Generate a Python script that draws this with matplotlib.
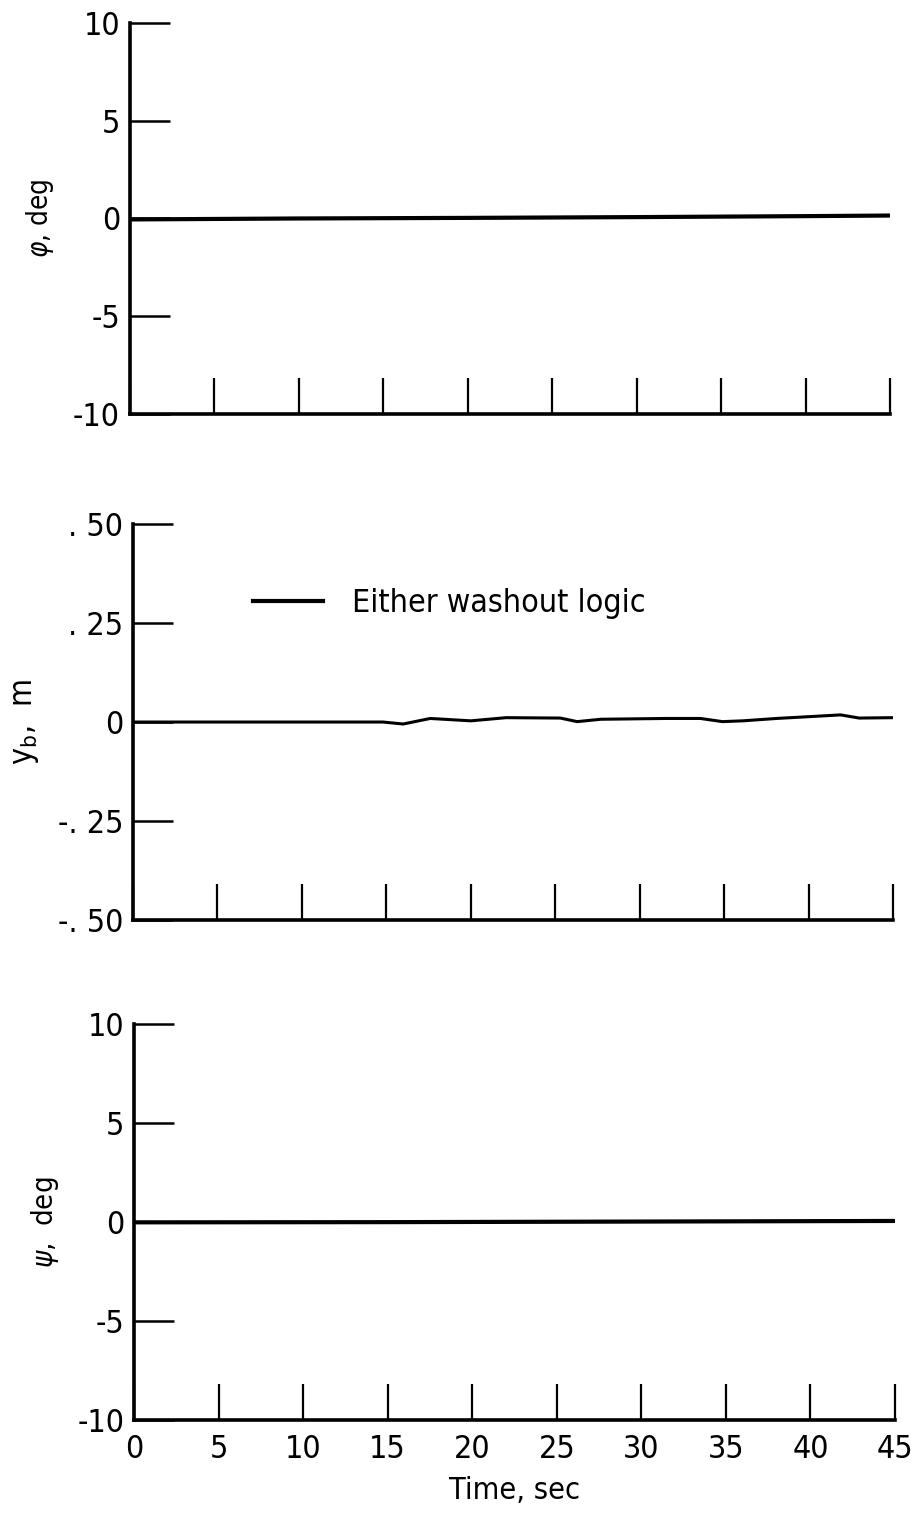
import matplotlib
matplotlib.use("Agg")
import matplotlib.pyplot as plt
import numpy as np

plt.rcParams['font.family'] = ['DejaVu Sans']
plt.rcParams['font.stretch'] = 'condensed'
plt.rcParams['mathtext.fontset'] = 'dejavusans'

# ---- data ----
time_phi = [0, 10, 20, 30, 40, 45]
phi_vals = [-0.05, 0.0, 0.03, 0.07, 0.12, 0.15]

time_yb = [0, 10, 14.8, 16.0, 16.8, 17.6, 20.0, 22.1, 25.3, 26.3, 27.7, 31.6,
           33.6, 34.9, 36.1, 38.1, 41.9, 43.0, 45]
yb_vals = [0, 0, 0, -0.005, 0.002, 0.009, 0.003, 0.011, 0.010, 0.001, 0.007, 0.009,
           0.009, 0.001, 0.003, 0.009, 0.018, 0.010, 0.011]

time_psi = [0, 15, 30, 45]
psi_vals = [-0.02, -0.01, 0.02, 0.05]

x_ticks = [0, 5, 10, 15, 20, 25, 30, 35, 40, 45]
x_ticklabels = ['0', '5', '10', '15', '20', '25', '30', '35', '40', '45']
deg_ticks = [-10, -5, 0, 5, 10]
deg_ticklabels = ['-10', '-5', '0', '5', '10']
yb_ticks = [-0.5, -0.25, 0, 0.25, 0.5]
yb_ticklabels = ['-. 50', '-. 25', '0', '. 25', '. 50']

fig = plt.figure(figsize=(9.14, 15.14), dpi=100)

positions = [
    [0.142, 0.7266, 0.832, 0.2582],
    [0.1455, 0.3923, 0.8315, 0.2616],
    [0.1466, 0.0621, 0.8326, 0.2616],
]

panels = [
    (time_phi, phi_vals, deg_ticks, deg_ticklabels, (-10, 10), r'$\varphi$, deg', 3.0, 20),
    (time_yb, yb_vals, yb_ticks, yb_ticklabels, (-0.5, 0.5), r'y$_{\mathregular{b}}$,  m', 2.2, 23),
    (time_psi, psi_vals, deg_ticks, deg_ticklabels, (-10, 10), r'$\psi$,  deg', 3.0, 21),
]

for i, (pos, (t, v, yt, ytl, ylim, ylab, lw, lfs)) in enumerate(zip(positions, panels)):
    ax = fig.add_axes(pos)
    ax.plot(t, v, color='black', lw=lw, solid_capstyle='butt')
    ax.set_xlim(0, 45)
    ax.set_ylim(*ylim)
    for s in ['top', 'right']:
        ax.spines[s].set_visible(False)
    for s in ['left', 'bottom']:
        ax.spines[s].set_linewidth(2.6)
    ax.set_yticks(yt)
    ax.set_yticklabels(ytl)
    ax.set_xticks(x_ticks)
    ax.tick_params(axis='y', direction='in', length=29, width=1.8, pad=7,
                   labelsize=23)
    ax.tick_params(axis='x', direction='in', length=26, width=1.6, pad=10,
                   labelsize=23)
    if i == 2:
        ax.set_xticklabels(x_ticklabels)
        ax.set_xlabel('Time, sec', fontsize=22, labelpad=8)
    else:
        ax.set_xticklabels([])
    ax.set_ylabel(ylab, fontsize=lfs, labelpad=12)
    if i == 1:
        ax.plot([], [], color='black', lw=3.0, label='Either washout logic')
        ax.legend(loc='upper left', bbox_to_anchor=(0.12, 0.91), frameon=False,
                  fontsize=23, handlelength=2.2, handletextpad=0.9)

fig.savefig('out.png', dpi=100)
